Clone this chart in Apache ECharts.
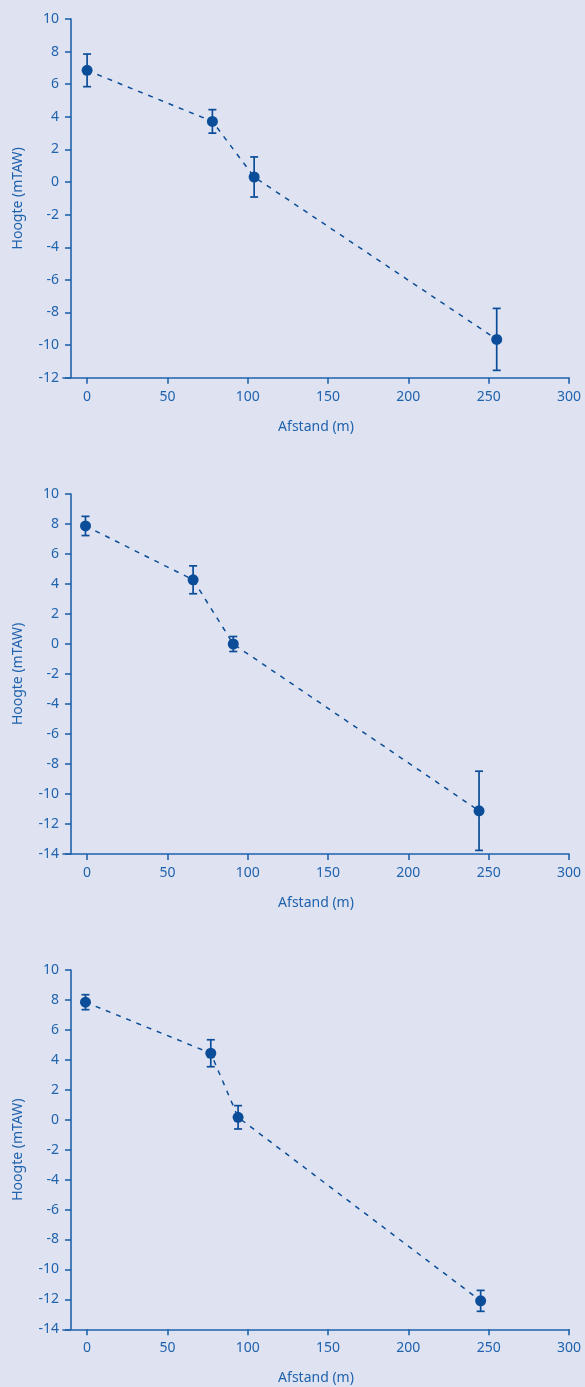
<!DOCTYPE html>
<html>
<head>
<meta charset="utf-8">
<script src="https://cdn.jsdelivr.net/npm/echarts@6/dist/echarts.min.js"></script>
<style>
  html, body { margin: 0; padding: 0; background: #dfe3f1; }
  #chart { width: 585px; height: 1387px; }
</style>
</head>
<body>
<div id="chart"></div>
<script>
// profiel 1
const afstand1 = [0, 78, 104, 255]
const hoogte1 = [6.85, 3.72, 0.31, -9.65]
const fout1 = [1.0, 0.72, 1.23, 1.9]
// profiel 2
const afstand2 = [-1, 66, 91, 244]
const hoogte2 = [7.87, 4.28, 0, -11.12]
const fout2 = [0.64, 0.93, 0.5, 2.64]
// profiel 3
const afstand3 = [-1, 77, 94, 245]
const hoogte3 = [7.85, 4.44, 0.16, -12.1]
const fout3 = [0.5, 0.9, 0.78, 0.7]

const xTicks = [0, 50, 100, 150, 200, 250, 300]
const yMins = [-12, -14, -14]

const axisColor = '#1f62ad'
const dotColor = '#0b4d98'
const font = 'Noto Sans'

const profielen = [
  { x: afstand1, y: hoogte1, err: fout1 },
  { x: afstand2, y: hoogte2, err: fout2 },
  { x: afstand3, y: hoogte3, err: fout3 }
]
const gridTops = [19, 494, 970]
const gridHeights = [358.7, 360, 359.3]

const chart = echarts.init(document.getElementById('chart'))

const grids = []
const xAxes = []
const yAxes = []
const series = []

profielen.forEach((p, i) => {
  grids.push({ left: 63, right: 16, top: gridTops[i], height: gridHeights[i] })
  xAxes.push({
    gridIndex: i,
    type: 'value',
    min: -15,
    max: 300,
    name: 'Afstand (m)',
    nameLocation: 'middle',
    nameGap: 42,
    nameTextStyle: { color: axisColor, fontFamily: font, fontSize: 14 },
    axisLine: { onZero: false, lineStyle: { color: axisColor, width: 1.6 } },
    axisTick: { customValues: xTicks, length: 6, lineStyle: { color: axisColor, width: 1.6 } },
    axisLabel: { customValues: xTicks, margin: 12, color: axisColor, fontFamily: font, fontSize: 14 },
    splitLine: { show: false }
  })
  yAxes.push({
    gridIndex: i,
    type: 'value',
    min: yMins[i],
    max: 10,
    interval: 2,
    offset: -8,
    name: 'Hoogte (mTAW)',
    nameLocation: 'middle',
    nameGap: 46,
    nameTextStyle: { color: axisColor, fontFamily: font, fontSize: 14 },
    axisLine: { show: true, onZero: false, lineStyle: { color: axisColor, width: 1.6 } },
    axisTick: { show: true, length: 6, lineStyle: { color: axisColor, width: 1.6 } },
    axisLabel: { margin: 12, color: axisColor, fontFamily: font, fontSize: 14 },
    splitLine: { show: false }
  })
  // foutmarges
  series.push({
    type: 'custom',
    xAxisIndex: i,
    yAxisIndex: i,
    clip: false,
    z: 3,
    data: p.x.map((x, k) => [x, p.y[k] - p.err[k], p.y[k] + p.err[k]]),
    encode: { x: 0, y: [1, 2] },
    renderItem: (params, api) => {
      const lo = api.coord([api.value(0), api.value(1)])
      const hi = api.coord([api.value(0), api.value(2)])
      const cap = 4
      const style = { stroke: dotColor, lineWidth: 1.7, fill: null }
      return {
        type: 'group',
        children: [
          { type: 'line', shape: { x1: lo[0], y1: lo[1], x2: hi[0], y2: hi[1] }, style },
          { type: 'line', shape: { x1: lo[0] - cap, y1: lo[1], x2: lo[0] + cap, y2: lo[1] }, style },
          { type: 'line', shape: { x1: hi[0] - cap, y1: hi[1], x2: hi[0] + cap, y2: hi[1] }, style }
        ]
      }
    }
  })
  // meetpunten met stippellijn
  series.push({
    type: 'line',
    xAxisIndex: i,
    yAxisIndex: i,
    z: 4,
    data: p.x.map((x, k) => [x, p.y[k]]),
    symbol: 'circle',
    symbolSize: 11,
    itemStyle: { color: dotColor },
    lineStyle: { color: dotColor, width: 1.5, type: [5, 6] },
    animation: false
  })
})

chart.setOption({
  backgroundColor: '#dfe3f1',
  animation: false,
  grid: grids,
  xAxis: xAxes,
  yAxis: yAxes,
  series: series
})
</script>
</body>
</html>
